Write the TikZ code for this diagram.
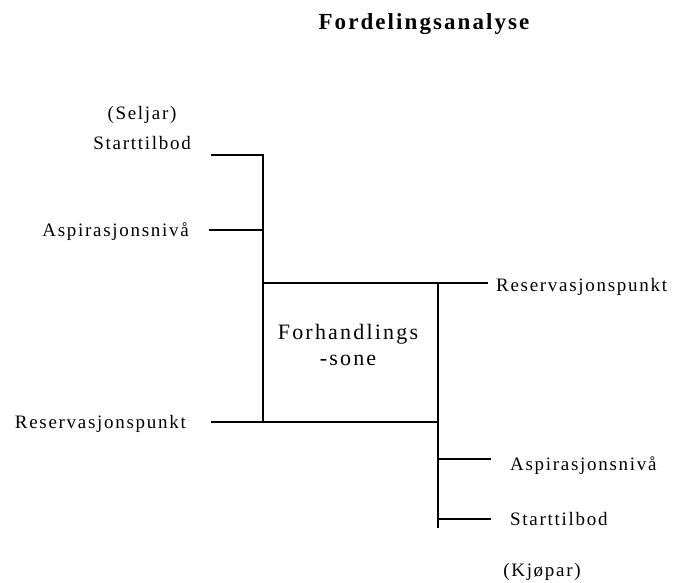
\documentclass[tikz,border=0pt]{standalone}
\usepackage{fontspec}
\setmainfont{Liberation Serif}
\begin{document}
\begin{tikzpicture}[x=1pt,y=-1pt,
  lbl/.style={inner sep=0pt, font=\fontsize{19}{21}\selectfont\addfontfeatures{LetterSpace=9}},
  ln/.style={line width=1.1pt, black}]
\useasboundingbox (0,0) rectangle (673,583);
\node[inner sep=0pt, anchor=base, font=\bfseries\fontsize{23}{25}\selectfont\addfontfeatures{LetterSpace=9}] (title) at (424,30) {Fordelingsanalyse};
\node[lbl, anchor=base] (seljar) at (142,120) {(Seljar)};
\node[lbl, anchor=base east] (st1) at (191,150) {Starttilbod};
\node[lbl, anchor=base east] (as1) at (189,237) {Aspirasjonsnivå};
\node[lbl, anchor=base east] (re1) at (186,428) {Reservasjonspunkt};
\node[lbl, anchor=base west] (re2) at (496,291) {Reservasjonspunkt};
\node[lbl, anchor=base west] (as2) at (510,470) {Aspirasjonsnivå};
\node[lbl, anchor=base west] (st2) at (510,525) {Starttilbod};
\node[lbl, anchor=base] (kjopar) at (542,576) {(Kjøpar)};
\node[align=center, inner sep=0pt, anchor=base, font=\fontsize{22}{26}\selectfont\addfontfeatures{LetterSpace=10}] (zone) at (348,365) {Forhandlings\\-sone};
\coordinate (a1) at (211,155);
\coordinate (a2) at (263,155);
\coordinate (b1) at (209,230);
\coordinate (b2) at (263,230);
\coordinate (tl) at (263,283);
\coordinate (tr) at (438,283);
\coordinate (te) at (488,283);
\coordinate (bl) at (263,422);
\coordinate (bs) at (211,422);
\coordinate (br) at (438,422);
\coordinate (c1) at (438,459);
\coordinate (c2) at (491,459);
\coordinate (d1) at (438,519);
\coordinate (d2) at (491,519);
\coordinate (rb) at (438,528);
\draw[ln] (a1) -- (a2) -- (bl);
\draw[ln] (b1) -- (b2);
\draw[ln] (tl) -- (te);
\draw[ln] (bs) -- (br);
\draw[ln] (tr) -- (rb);
\draw[ln] (c1) -- (c2);
\draw[ln] (d1) -- (d2);
\end{tikzpicture}
\end{document}
